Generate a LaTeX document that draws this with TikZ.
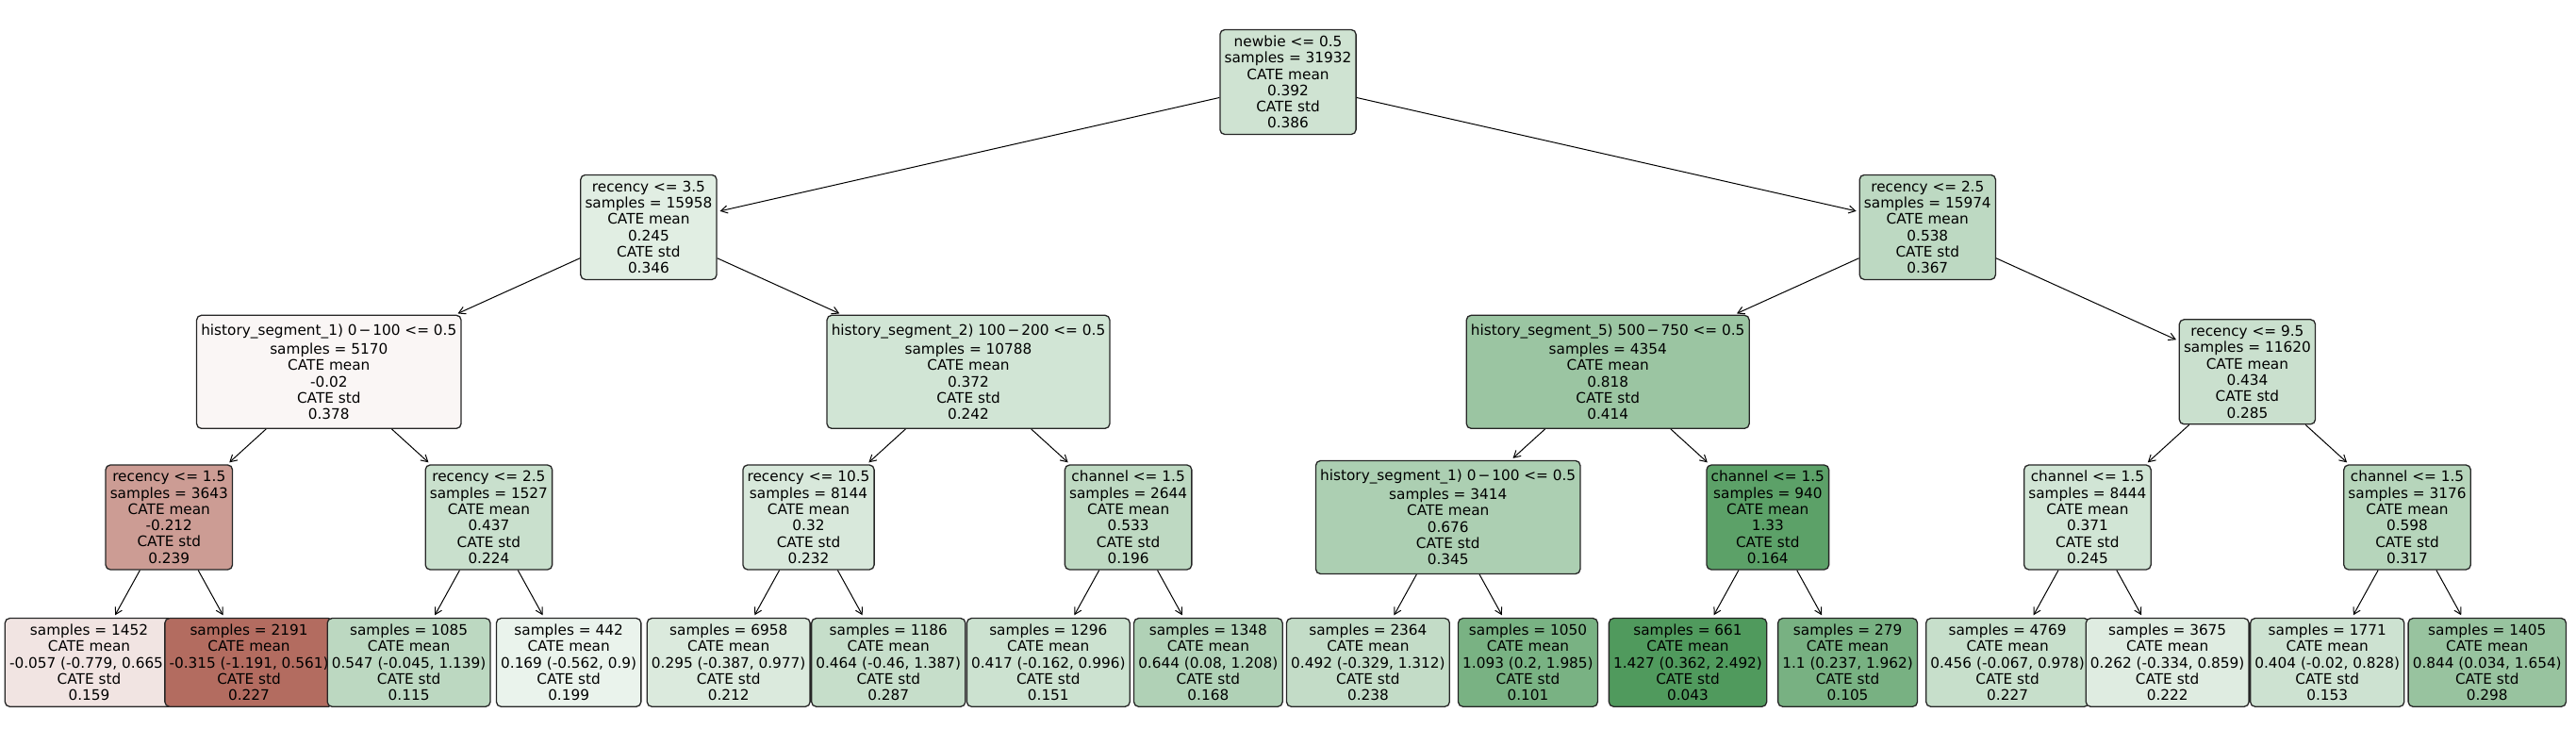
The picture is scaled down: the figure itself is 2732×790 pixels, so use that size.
\documentclass[tikz,border=0pt]{standalone}
\usepackage{fontspec}
\setmainfont{DejaVu Sans}
\usetikzlibrary{arrows.meta}
\definecolor{cg}{RGB}{80,154,93}
\definecolor{cr}{RGB}{179,108,96}
\tikzset{
 tn/.style={draw=black!85, line width=1.3pt, rounded corners=5pt, align=center, inner xsep=4.7pt, inner ysep=0pt, font=\fontsize{15.3}{17.3}\selectfont},
 splitbox/.style={tn, minimum height=111pt},
 histbox/.style={tn, minimum height=120pt},
 leafbox/.style={tn, minimum height=93.7pt},
 arr/.style={line width=1pt, -{Straight Barb[length=7pt,width=8pt]}, shorten >=3pt},
}
\newcommand{\mns}{\hspace{.13em}−\hspace{.13em}}
\begin{document}
\begin{tikzpicture}[x=1pt,y=-1pt]
\useasboundingbox (0,0) rectangle (2732,790);
% root
\node[splitbox, fill=cg!27.5!white] (n0) at (1366,87) {newbie <= 0.5\\samples = 31932\\CATE mean\\0.392\\CATE std\\0.386};
% level 1
\node[splitbox, fill=cg!17.2!white] (a) at (687.9,240.9) {recency <= 3.5\\samples = 15958\\CATE mean\\0.245\\CATE std\\0.346};
\node[splitbox, fill=cg!37.7!white] (b) at (2044.3,240.9) {recency <= 2.5\\samples = 15974\\CATE mean\\0.538\\CATE std\\0.367};
% level 2
\node[histbox, fill=cr!6.3!white] (aa) at (348.8,394.3) {history\_segment\_1) 0\mns 100 <= 0.5\\[2.7pt]samples = 5170\\CATE mean\\-0.02\\CATE std\\0.378};
\node[histbox, fill=cg!26.1!white] (ab) at (1027,394.3) {history\_segment\_2) 100\mns 200 <= 0.5\\[2.7pt]samples = 10788\\CATE mean\\0.372\\CATE std\\0.242};
\node[histbox, fill=cg!57.3!white] (ba) at (1705.2,394.3) {history\_segment\_5) 500\mns 750 <= 0.5\\[2.7pt]samples = 4354\\CATE mean\\0.818\\CATE std\\0.414};
\node[splitbox, fill=cg!30.4!white] (bb) at (2383.4,394.3) {recency <= 9.5\\samples = 11620\\CATE mean\\0.434\\CATE std\\0.285};
% level 3
\node[splitbox, fill=cr!67.3!white] (aaa) at (179.3,548.5) {recency <= 1.5\\samples = 3643\\CATE mean\\-0.212\\CATE std\\0.239};
\node[splitbox, fill=cg!30.6!white] (aab) at (518.4,548.5) {recency <= 2.5\\samples = 1527\\CATE mean\\0.437\\CATE std\\0.224};
\node[splitbox, fill=cg!22.4!white] (aba) at (857.5,548.5) {recency <= 10.5\\samples = 8144\\CATE mean\\0.32\\CATE std\\0.232};
\node[splitbox, fill=cg!37.4!white] (abb) at (1196.6,548.5) {channel <= 1.5\\samples = 2644\\CATE mean\\0.533\\CATE std\\0.196};
\node[histbox, fill=cg!47.4!white] (baa) at (1535.7,548.5) {history\_segment\_1) 0\mns 100 <= 0.5\\[2.7pt]samples = 3414\\CATE mean\\0.676\\CATE std\\0.345};
\node[splitbox, fill=cg!93.2!white] (bab) at (1874.8,548.5) {channel <= 1.5\\samples = 940\\CATE mean\\1.33\\CATE std\\0.164};
\node[splitbox, fill=cg!26!white] (bba) at (2213.9,548.5) {channel <= 1.5\\samples = 8444\\CATE mean\\0.371\\CATE std\\0.245};
\node[splitbox, fill=cg!41.9!white] (bbb) at (2553,548.5) {channel <= 1.5\\samples = 3176\\CATE mean\\0.598\\CATE std\\0.317};
% leaves
\node[leafbox, fill=cr!18.1!white] (l0) at (94.5,702.4) {samples = 1452\\CATE mean\\-0.057 (-0.779, 0.665)\\CATE std\\0.159};
\node[leafbox, fill=cr!100!white] (l1) at (264.05,702.4) {samples = 2191\\CATE mean\\-0.315 (-1.191, 0.561)\\CATE std\\0.227};
\node[leafbox, fill=cg!38.3!white] (l2) at (433.6,702.4) {samples = 1085\\CATE mean\\0.547 (-0.045, 1.139)\\CATE std\\0.115};
\node[leafbox, fill=cg!11.8!white] (l3) at (603.15,702.4) {samples = 442\\CATE mean\\0.169 (-0.562, 0.9)\\CATE std\\0.199};
\node[leafbox, fill=cg!20.7!white] (l4) at (772.7,702.4) {samples = 6958\\CATE mean\\0.295 (-0.387, 0.977)\\CATE std\\0.212};
\node[leafbox, fill=cg!32.5!white] (l5) at (942.25,702.4) {samples = 1186\\CATE mean\\0.464 (-0.46, 1.387)\\CATE std\\0.287};
\node[leafbox, fill=cg!29.2!white] (l6) at (1111.8,702.4) {samples = 1296\\CATE mean\\0.417 (-0.162, 0.996)\\CATE std\\0.151};
\node[leafbox, fill=cg!45.1!white] (l7) at (1281.35,702.4) {samples = 1348\\CATE mean\\0.644 (0.08, 1.208)\\CATE std\\0.168};
\node[leafbox, fill=cg!34.5!white] (l8) at (1450.9,702.4) {samples = 2364\\CATE mean\\0.492 (-0.329, 1.312)\\CATE std\\0.238};
\node[leafbox, fill=cg!76.6!white] (l9) at (1620.45,702.4) {samples = 1050\\CATE mean\\1.093 (0.2, 1.985)\\CATE std\\0.101};
\node[leafbox, fill=cg!100!white] (l10) at (1790,702.4) {samples = 661\\CATE mean\\1.427 (0.362, 2.492)\\CATE std\\0.043};
\node[leafbox, fill=cg!77.1!white] (l11) at (1959.55,702.4) {samples = 279\\CATE mean\\1.1 (0.237, 1.962)\\CATE std\\0.105};
\node[leafbox, fill=cg!32!white] (l12) at (2129.1,702.4) {samples = 4769\\CATE mean\\0.456 (-0.067, 0.978)\\CATE std\\0.227};
\node[leafbox, fill=cg!18.4!white] (l13) at (2298.65,702.4) {samples = 3675\\CATE mean\\0.262 (-0.334, 0.859)\\CATE std\\0.222};
\node[leafbox, fill=cg!28.3!white] (l14) at (2468.2,702.4) {samples = 1771\\CATE mean\\0.404 (-0.02, 0.828)\\CATE std\\0.153};
\node[leafbox, fill=cg!59.1!white] (l15) at (2637.75,702.4) {samples = 1405\\CATE mean\\0.844 (0.034, 1.654)\\CATE std\\0.298};
% edges
\foreach \p/\c in {n0/a,n0/b,a/aa,a/ab,b/ba,b/bb,aa/aaa,aa/aab,ab/aba,ab/abb,ba/baa,ba/bab,bb/bba,bb/bbb,aaa/l0,aaa/l1,aab/l2,aab/l3,aba/l4,aba/l5,abb/l6,abb/l7,baa/l8,baa/l9,bab/l10,bab/l11,bba/l12,bba/l13,bbb/l14,bbb/l15}
  \draw[arr] (\p) -- (\c);
\end{tikzpicture}
\end{document}
